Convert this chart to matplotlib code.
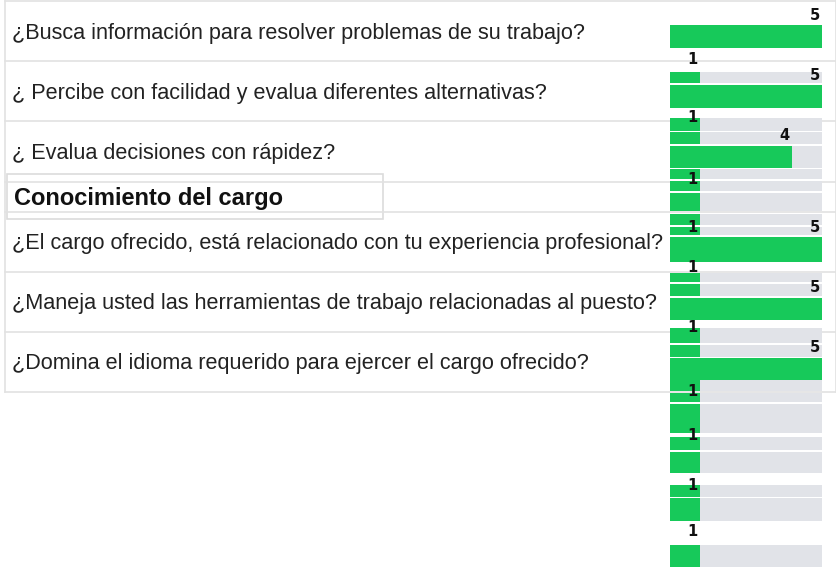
import matplotlib.pyplot as plt
from matplotlib.patches import Rectangle

# questions (left column) and their row centres in pixels
questions = [
    "¿Busca información para resolver problemas de su trabajo?",
    "¿ Percibe con facilidad y evalua diferentes alternativas?",
    "¿ Evalua decisiones con rápidez?",
    "¿El cargo ofrecido, está relacionado con tu experiencia profesional?",
    "¿Maneja usted las herramientas de trabajo relacionadas al puesto?",
    "¿Domina el idioma requerido para ejercer el cargo ofrecido?",
]
section = "Conocimiento del cargo"

# bar values, in drawing order (the mini charts overlap each other)
bar_values = [5, 1, 5, 1, 1, 4, 1, 1, 1, 1, 1, 5, 1, 1, 5, 1, 1, 5, 1, 1, 1, 1, 1, 1, 1, 1]
# value labels
label_values = [5, 1, 5, 1, 4, 1, 1, 5, 1, 5, 1, 5, 1, 1, 1, 1]

# layout (pixels)
q_y = [34, 93, 154, 244, 304, 364]
section_y = 199
row_lines = [1, 61, 121, 182, 212, 272, 332, 392]
bar_top = [25, 72, 85, 118, 132, 146, 169, 181, 193, 214, 227, 237, 273, 284, 298,
           328, 345, 358, 380, 393, 404, 437, 452, 485, 498, 545]
bar_bot = [48, 83, 108, 131, 144, 168, 179, 191, 211, 225, 235, 262, 282, 296, 320,
           343, 357, 380, 391, 402, 433, 450, 473, 497, 521, 567]
label_y = [15, 60, 75, 117, 135, 180, 227, 227, 267, 287, 328, 347, 391, 436, 485, 532]

GREEN = "#17c95a"
TRACK = "#e1e3e8"
LINE = "#e2e2e2"

W, H = 837, 567
fig = plt.figure(figsize=(W / 100, H / 100), dpi=100)
ax = fig.add_axes([0, 0, 1, 1])
ax.set_xlim(0, W)
ax.set_ylim(H, 0)
ax.axis("off")

# table grid
for y in row_lines:
    ax.plot([5, 836], [y, y], color=LINE, lw=1.2)
ax.plot([5, 5], [1, 392], color=LINE, lw=1.2)
ax.plot([836, 836], [1, 392], color=LINE, lw=1.2)
ax.add_patch(Rectangle((7, 174), 376, 45, fill=False, ec="#dcdcdc", lw=1.2))

for q, y in zip(questions, q_y):
    ax.text(12, y, q, fontsize=15.6, family="Liberation Sans", color="#222222", va="center")
ax.text(14, section_y, section, fontsize=17, family="Liberation Sans",
        fontweight="bold", color="#111111", va="center")

# mini bar charts
ax2 = fig.add_axes([670 / W, 0, 152 / W, 1])
ax2.set_xlim(0, 5)
ax2.set_ylim(H, 0)
ax2.axis("off")
for v, t, b in zip(bar_values, bar_top, bar_bot):
    c = (t + b) / 2
    h = b - t
    ax2.barh(c, 5, height=h, color=TRACK, lw=0)
    ax2.barh(c, v, height=h, color=GREEN, lw=0)

for v, y in zip(label_values, label_y):
    ax2.text(v - 0.08, y, str(v), ha="right", va="center", fontsize=10.5,
             fontweight="bold", color="#111111")

fig.savefig("out.png", dpi=100)
